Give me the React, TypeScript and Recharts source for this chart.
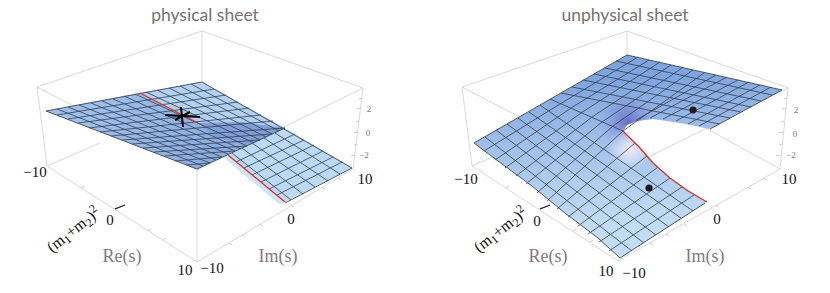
import React from "react";
import { ScatterChart, Scatter, XAxis, YAxis } from "recharts";

type P = [number, number];

const leftBox: P[][] = [
  [[37, 87], [202, 31], [363, 88], [197, 170], [37, 87]],
  [[37, 87], [47, 166], [197, 262], [353, 169], [363, 88]],
  [[202, 31], [202, 85]],
  [[197, 170], [197, 262]],
  [[47, 166], [100, 143]],
  [[353, 169], [330, 155]],
];
const rightBox: P[][] = [
  [[462, 87], [627, 31], [788, 88], [622, 170], [462, 87]],
  [[462, 87], [472, 166], [618, 261], [780, 169], [788, 88]],
  [[627, 31], [627, 60]],
  [[622, 170], [618, 261]],
  [[472, 166], [520, 145]],
  [[780, 169], [640, 92]],
];
const axisTicks: P[][] = [
  [[81, 188], [84, 186]], [[114, 209], [117, 207]], [[148, 231], [151, 229]], [[163, 240], [166, 238]],
  [[229, 243], [232, 245]], [[242, 235], [245, 237]], [[260, 224], [263, 226]], [[291, 205], [294, 207]],
  [[322, 187], [325, 189]], [[338, 178], [341, 180]],
  [[362, 98], [359, 99]], [[361, 108], [357, 109]], [[359, 121], [356, 122]], [[358, 132], [354, 133]], [[357, 144], [354, 145]], [[355, 155], [351, 156]],
  [[506, 188], [509, 186]], [[539, 209], [542, 207]], [[573, 231], [576, 229]], [[590, 242], [593, 240]],
  [[650, 243], [653, 245]], [[666, 234], [669, 236]], [[684, 224], [687, 226]], [[716, 205], [719, 207]],
  [[748, 187], [751, 189]], [[764, 178], [767, 180]],
  [[787, 98], [784, 99]], [[786, 108], [782, 109]], [[784, 121], [781, 122]], [[783, 132], [779, 133]], [[782, 144], [779, 145]], [[780, 155], [776, 156]],
];

const leftLowerSheet: P[] = [[228, 155], [285, 128], [352, 168], [285, 202]];
const leftPaleBand: P[] = [[223, 157], [228, 155], [285, 202], [279, 204]];
const leftWedge: P[] = [[140, 93], [202, 82], [285, 128], [198, 123]];
const leftDarkSheet: P[] = [[46, 111], [140, 93], [198, 123], [285, 128], [197, 169]];
const leftDarkBand: P[] = [[198, 123], [242, 122], [285, 128], [250, 145], [215, 137]];
const leftRed: P[][] = [
  [[140, 93], [198, 123]],
  [[228, 155], [285, 202]],
];
const leftCross: P[][] = [
  [[165, 115], [200, 117]],
  [[181, 107], [183, 127]],
  [[175, 120], [190, 112]],
];
const leftConstIm: P[][] = [
  [[57, 109], [203, 166]], [[68, 107], [210, 163]], [[79, 105], [216, 160]], [[91, 103], [222, 157]],
  [[102, 101], [228, 154]], [[113, 99], [235, 151]], [[124, 96], [241, 149]], [[135, 94], [247, 146]],
  [[146, 92], [254, 143]], [[157, 90], [260, 140]], [[169, 88], [266, 137]], [[180, 86], [272, 134]],
  [[191, 84], [279, 131]],
];
const leftConstRe: P[][] = [
  [[57, 115], [214, 89]], [[68, 119], [226, 95]], [[78, 123], [238, 102]], [[89, 128], [249, 108]],
  [[100, 132], [261, 115]], [[111, 136], [273, 121]], [[122, 140], [285, 128]], [[132, 144], [272, 134]],
  [[143, 148], [260, 140]], [[154, 152], [247, 146]], [[165, 156], [235, 151]], [[175, 161], [222, 157]],
  [[186, 165], [210, 163]],
];
const leftLowerIm: P[][] = [
  [[232, 153], [291, 200]], [[242, 148], [303, 194]], [[252, 143], [315, 187]],
  [[264, 138], [328, 181]], [[275, 133], [340, 174]],
];
const leftLowerRe: P[][] = [
  [[236, 162], [295, 134]], [[244, 168], [304, 140]], [[252, 175], [314, 145]],
  [[261, 182], [323, 151]], [[269, 189], [333, 157]], [[277, 195], [342, 162]],
];
const leftEdges: P[][] = [
  [[46, 111], [202, 82], [352, 168], [285, 203]],
  [[46, 111], [197, 169], [285, 128]],
];

const rightSheet: P[] = [
  [474, 143], [627, 55], [782, 90], [710, 129], [680, 123], [653, 119], [637, 121], [627, 125], [623, 131],
  [640, 148], [653, 163], [670, 178], [707, 202], [620, 258], [598, 238], [565, 213], [532, 186], [498, 161],
];
const rightRed: P[] = [[623, 131], [632, 140], [640, 148], [653, 163], [670, 178], [688, 191], [707, 202]];
const rightConstIm: P[][] = [
  [[485, 137], [632, 251]], [[496, 130], [644, 243]], [[507, 124], [656, 235]], [[518, 118], [669, 227]],
  [[529, 112], [681, 218]], [[540, 105], [693, 211]], [[550, 99], [623, 131]],
  [[561, 93], [720, 124]], [[572, 87], [730, 118]], [[583, 80], [741, 112]], [[594, 74], [751, 107]],
  [[605, 68], [761, 101]], [[616, 61], [772, 95]],
];
const rightConstRe: P[][] = [
  [[484, 151], [560, 104], [638, 57]], [[495, 160], [571, 108], [649, 60]], [[505, 168], [581, 113], [660, 62]],
  [[516, 176], [592, 117], [671, 65]], [[526, 184], [602, 122], [682, 68]], [[537, 193], [613, 126], [693, 70]],
  [[547, 201], [623, 131], [704, 73]],
  [[557, 209], [635, 143]], [[568, 217], [647, 156]], [[578, 226], [658, 167]], [[588, 234], [670, 178]],
  [[599, 242], [682, 187]], [[609, 251], [694, 195]],
  [[636, 120], [716, 75]], [[650, 118], [727, 77]], [[663, 119], [738, 80]], [[676, 121], [749, 82]],
  [[688, 124], [760, 85]], [[699, 126], [771, 87]],
];
const rightEdges: P[][] = [
  [[474, 143], [627, 55], [782, 90], [710, 129]],
  [[474, 143], [498, 161], [532, 186], [565, 213], [598, 238], [620, 258], [705, 203]],
];
const rightDots: P[] = [[693, 110], [649, 188]];

const titles: [string, number, number][] = [
  ["physical sheet", 205, 21],
  ["unphysical sheet", 625, 21],
];
const tickLabels: [string, number, number][] = [
  ["−10", 35, 177], ["0", 110, 225], ["10", 185, 275], ["−10", 212, 273], ["0", 291, 224], ["10", 365, 184],
  ["−10", 466, 184], ["0", 537, 226], ["10", 606, 276], ["−10", 634, 278], ["0", 717, 224], ["10", 789, 184],
];
const zLabels: [string, number, number][] = [
  ["2", 369, 112], ["0", 368, 136], ["−2", 364, 158],
  ["2", 796, 113], ["0", 795, 137], ["−2", 791, 158],
];
const axisNames: [string, number, number][] = [
  ["Re(s)", 122, 262], ["Im(s)", 278, 262], ["Re(s)", 548, 262], ["Im(s)", 705, 262],
];
const massLabels: [number, number][] = [[52, 253], [479, 253]];

const toData = (pts: P[]) => pts.map(([x, y]) => ({ x, y }));
const serif = "'Liberation Serif', serif";

const polyLine = (fill: string) => (props: any) => {
  const d = props.points.map((p: any, i: number) => `${i ? "L" : "M"}${p.x},${p.y}`).join(" ") + "Z";
  return <path d={d} fill={fill} stroke="none" />;
};
const Nothing = () => null;

const area = (pts: P[], fill: string, key: string) => (
  <Scatter key={key} data={toData(pts)} isAnimationActive={false} shape={Nothing} line={polyLine(fill)} />
);
const lines = (sets: P[][], stroke: string, strokeWidth: number, key: string) =>
  sets.map((pts, i) => (
    <Scatter
      key={`${key}${i}`}
      data={toData(pts)}
      isAnimationActive={false}
      shape={Nothing}
      line={{ stroke, strokeWidth, fill: "none" }}
    />
  ));

const grid = "#33404f";

export default function App() {
  return (
    <div style={{ position: "absolute", left: 0, top: 0 }}>
      <ScatterChart width={830} height={293} margin={{ top: 0, right: 0, bottom: 0, left: 0 }}>
        <defs>
          <linearGradient id="rs" gradientUnits="userSpaceOnUse" x1="620" y1="80" x2="630" y2="225">
            <stop offset="0" stopColor="#7fa5e0" />
            <stop offset="0.35" stopColor="#9dbde9" />
            <stop offset="1" stopColor="#c4ddf6" />
          </linearGradient>
          <radialGradient id="cuspDark" gradientUnits="userSpaceOnUse" cx="628" cy="122" r="30">
            <stop offset="0" stopColor="#5f62bd" stopOpacity="0.85" />
            <stop offset="1" stopColor="#7f8fd8" stopOpacity="0" />
          </radialGradient>
          <radialGradient id="cuspPale" gradientUnits="userSpaceOnUse" cx="630" cy="148" r="22">
            <stop offset="0" stopColor="#f4eaf6" stopOpacity="0.95" />
            <stop offset="1" stopColor="#ffffff" stopOpacity="0" />
          </radialGradient>
          <linearGradient id="ld" gradientUnits="userSpaceOnUse" x1="100" y1="100" x2="200" y2="165">
            <stop offset="0" stopColor="#9fc0ec" />
            <stop offset="1" stopColor="#8badE2" />
          </linearGradient>
        </defs>
        <XAxis type="number" dataKey="x" domain={[0, 830]} hide allowDataOverflow />
        <YAxis type="number" dataKey="y" domain={[0, 293]} reversed hide allowDataOverflow />

        {lines(leftBox, "#cfcfcf", 0.8, "lb")}
        {lines(rightBox, "#cfcfcf", 0.8, "rb")}
        {lines(axisTicks, "#bdbdbd", 0.8, "at")}

        {area(leftPaleBand, "#cfe4f7", "a1")}
        {area(leftLowerSheet, "#bcdaf6", "a2")}
        {lines(leftLowerIm, grid, 0.8, "li")}
        {lines(leftLowerRe, grid, 0.8, "lr")}
        {lines([leftRed[1]], "#d9352b", 1.3, "r1")}
        {area(leftWedge, "#b2d1f3", "a3")}
        {area(leftDarkSheet, "url(#ld)", "a4")}
        {area(leftDarkBand, "#7f9fdb", "a5")}
        {lines(leftConstIm, grid, 0.8, "ci")}
        {lines(leftConstRe, grid, 0.8, "cr")}
        {lines(leftEdges, "#3d4650", 0.9, "le")}
        {lines([leftRed[0]], "#d9352b", 1.3, "r0")}
        {lines(leftCross, "#000000", 2, "cx")}

        {area(rightSheet, "url(#rs)", "b1")}
        {area(rightSheet, "url(#cuspDark)", "b2")}
        {area(rightSheet, "url(#cuspPale)", "b3")}
        {lines(rightConstIm, grid, 0.8, "ri")}
        {lines(rightConstRe, grid, 0.8, "rr")}
        {lines(rightEdges, "#3d4650", 0.9, "re")}
        {lines([rightRed], "#d9352b", 1.4, "rr0")}
        <Scatter data={toData(rightDots)} fill="#1c1c1c" isAnimationActive={false} shape={(p: any) => <circle cx={p.cx} cy={p.cy} r={3.6} fill="#1c1c1c" />} />
        {lines([[[115, 209], [125, 205]], [[540, 209], [550, 205]]], "#111111", 1.2, "mt")}

        {titles.map(([t, x, y]) => (
          <text key={t} x={x} y={y} textAnchor="middle" fontFamily="Lato, sans-serif" fontSize={17.5} fill="#7b716e">{t}</text>
        ))}
        {tickLabels.map(([t, x, y], i) => (
          <text key={i} x={x} y={y} textAnchor="middle" fontFamily={serif} fontSize={15} fill="#111">{t}</text>
        ))}
        {zLabels.map(([t, x, y], i) => (
          <text key={i} x={x} y={y} textAnchor="middle" fontFamily={serif} fontSize={9} fill="#777">{t}</text>
        ))}
        {axisNames.map(([t, x, y], i) => (
          <text key={i} x={x} y={y} textAnchor="middle" fontFamily={serif} fontSize={18} fill="#85797a">{t}</text>
        ))}
        {massLabels.map(([x, y], i) => (
          <text key={i} transform={`translate(${x},${y}) rotate(-38)`} fontFamily={serif} fontSize={16} fill="#111">
            (m<tspan dy={3} fontSize={12}>1</tspan><tspan dy={-3}>+m</tspan><tspan dy={3} fontSize={12}>2</tspan><tspan dy={-3}>)</tspan><tspan dy={-6} fontSize={12}>2</tspan>
          </text>
        ))}
      </ScatterChart>
    </div>
  );
}
